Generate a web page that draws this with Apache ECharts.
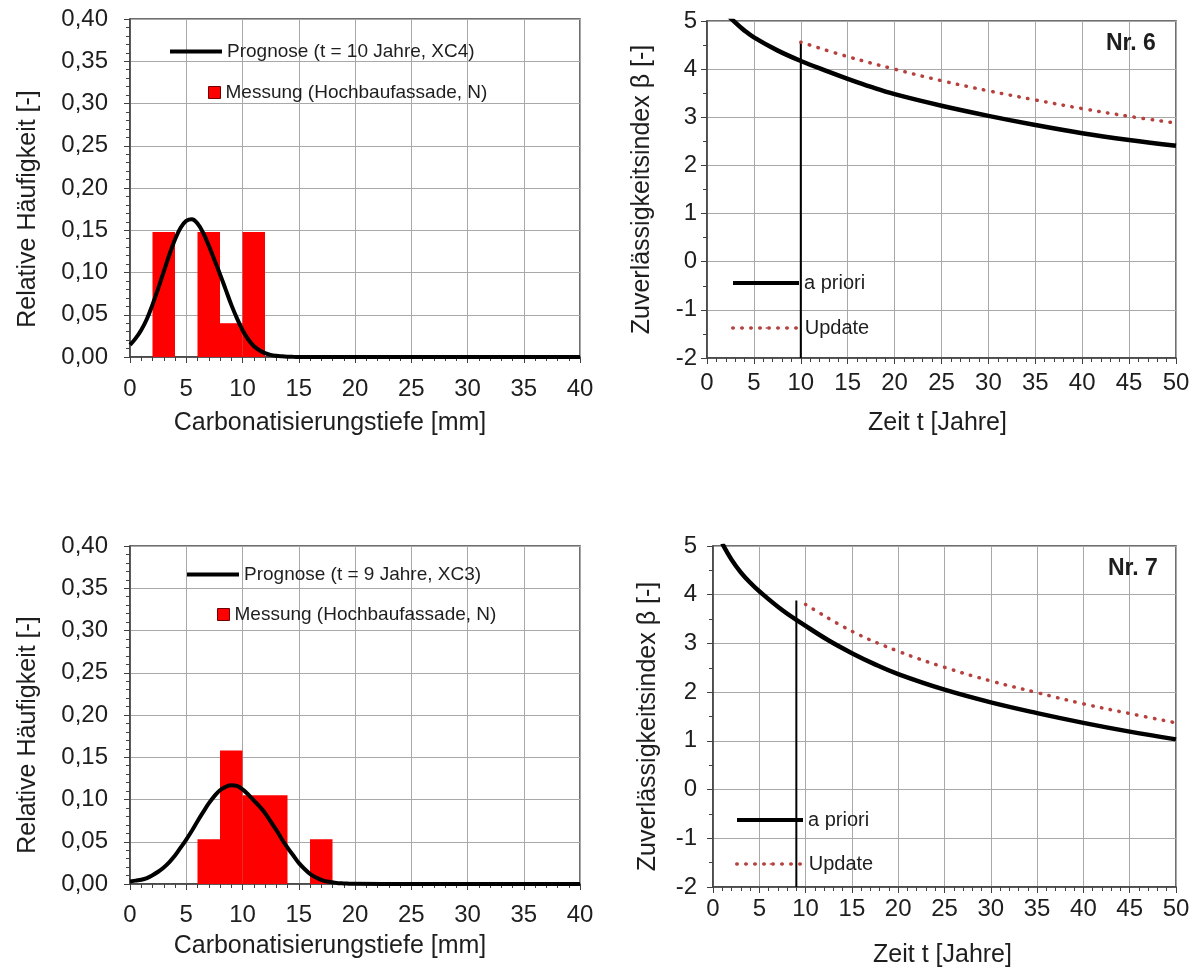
<!DOCTYPE html>
<html>
<head>
<meta charset="utf-8">
<script src="https://cdn.jsdelivr.net/npm/echarts@6/dist/echarts.min.js"></script>
<style>
  html, body { margin: 0; padding: 0; background: #fff; }
  #chart { width: 1201px; height: 970px; }
</style>
</head>
<body>
<div id="chart"></div>
<script>
// --- histogram panels (left) ---
const depthMm = [0, 0.5, 1, 1.5, 2, 2.5, 3, 3.5, 4, 4.5, 5, 5.5, 6, 6.5, 7, 7.5, 8, 8.5, 9, 9.5,
  10, 10.5, 11, 11.5, 12, 12.5, 13, 13.5, 14, 14.5, 15, 15.5, 16, 16.5, 17, 17.5, 18, 18.5, 19, 19.5, 20, 25, 30, 35, 40]
const progNr6 = [0.0143, 0.022, 0.032, 0.045, 0.062, 0.081, 0.101, 0.121, 0.139, 0.153, 0.161, 0.163, 0.158, 0.147, 0.132, 0.115,
  0.098, 0.080, 0.062, 0.046, 0.032, 0.021, 0.013, 0.008, 0.0045, 0.0025, 0.0014, 0.0008, 0.0004, 0.0002, 0.0001,
  0, 0, 0, 0, 0, 0, 0, 0, 0, 0, 0, 0, 0, 0]
const progNr7 = [0.003, 0.004, 0.005, 0.007, 0.0104, 0.0145, 0.0196, 0.026, 0.0337, 0.043, 0.0526, 0.063, 0.0743, 0.085, 0.0953, 0.104,
  0.111, 0.115, 0.117, 0.116, 0.112, 0.106, 0.099, 0.092, 0.084, 0.074, 0.064, 0.053, 0.043, 0.034, 0.025,
  0.018, 0.012, 0.008, 0.005, 0.003, 0.002, 0.001, 0.0007, 0.0004, 0.0002, 0, 0, 0, 0]

const BIN_WIDTH = 2
const binsNr6 = [2, 4, 6, 8, 10]
const messNr6 = [0.148, 0, 0.148, 0.040, 0.148]
const binsNr7 = [6, 8, 10, 12, 14, 16]
const messNr7 = [0.053, 0.158, 0.105, 0.105, 0, 0.053]

// --- reliability panels (right) ---
const tPriorNr6 = [1, 2, 3, 4, 5, 7.5, 10, 12.5, 15, 17.5, 20, 25, 30, 35, 40, 45, 50]
const betaPriorNr6 = [5.45, 5.17, 4.97, 4.8, 4.66, 4.39, 4.17, 3.98, 3.8, 3.63, 3.48, 3.24, 3.03, 2.84, 2.67, 2.53, 2.41]
const tUpdNr6 = [10, 15, 20, 25, 30, 35, 40, 45, 50]
const betaUpdNr6 = [4.56, 4.26, 4.0, 3.76, 3.55, 3.36, 3.18, 3.02, 2.88]
const inspNr6 = [10, -2, 4.56] // t, beta from, beta to

const tPriorNr7 = [1, 2, 3, 4, 5, 7.5, 10, 12.5, 15, 17.5, 20, 25, 30, 35, 40, 45, 50]
const betaPriorNr7 = [5.05, 4.72, 4.46, 4.25, 4.07, 3.68, 3.36, 3.06, 2.8, 2.57, 2.37, 2.05, 1.79, 1.57, 1.37, 1.19, 1.03]
const tUpdNr7 = [10, 15, 20, 25, 30, 35, 40, 45, 50]
const betaUpdNr7 = [3.80, 3.25, 2.84, 2.51, 2.23, 1.99, 1.76, 1.56, 1.37]
const inspNr7 = [9, -2, 3.88]

const NAME_PROG6 = 'Prognose (t = 10 Jahre, XC4)'
const NAME_PROG7 = 'Prognose (t = 9 Jahre, XC3)'
const NAME_MESS = 'Messung (Hochbaufassade, N)'

const FONT = '"Liberation Sans", Arial, sans-serif'
const TEXT = '#1e1e1e'
const GRID_LINE = '#a8a8a8'
const FRAME = '#404040'
const BAR_RED = '#ff0000'
const UPD_RED = '#b5403d'

const pairs = (xs, ys) => xs.map((x, i) => [x, ys[i]])
const comma2 = v => v.toFixed(2).replace('.', ',')

const xAxisCfg = (gridIndex, max, name, labelMargin, nameGap, namePad) => ({
  type: 'value', gridIndex, min: 0, max, interval: 5,
  name, nameLocation: 'middle', nameGap, nameMoveOverlap: false,
  nameTextStyle: { fontFamily: FONT, fontSize: 25, color: TEXT, padding: namePad },
  axisLine: { show: true, onZero: false, lineStyle: { color: FRAME, width: 1.5 } },
  axisTick: { show: true, length: 6, lineStyle: { color: FRAME } },
  minorTick: { show: true, splitNumber: 5, length: 4, lineStyle: { color: FRAME } },
  axisLabel: { fontFamily: FONT, fontSize: 24, color: TEXT, margin: labelMargin },
  splitLine: { show: true, lineStyle: { color: GRID_LINE, width: 1 } },
  minorSplitLine: { show: false }
})

const yAxisCfg = (gridIndex, min, max, interval, minorSplit, name, labelMargin, nameGap, namePad, fmt) => ({
  type: 'value', gridIndex, min, max, interval,
  name, nameLocation: 'middle', nameGap, nameMoveOverlap: false,
  nameTextStyle: { fontFamily: FONT, fontSize: 25, color: TEXT, padding: namePad },
  axisLine: { show: true, onZero: false, lineStyle: { color: FRAME, width: 1.5 } },
  axisTick: { show: true, length: 6, lineStyle: { color: FRAME } },
  minorTick: { show: true, splitNumber: minorSplit, length: 4, lineStyle: { color: FRAME } },
  axisLabel: { fontFamily: FONT, fontSize: 24, color: TEXT, margin: labelMargin, formatter: fmt },
  splitLine: { show: true, lineStyle: { color: GRID_LINE, width: 1 } }
})

const gridCfg = (left, top, right, bottom) => ({
  left, top, right, bottom, show: true, borderColor: FRAME, borderWidth: 1.5,
  backgroundColor: '#fff', containLabel: false, outerBoundsMode: 'none'
})

const histRender = (params, api) => {
  const h = api.value(1)
  if (!h) return
  const a = api.coord([api.value(0), h])
  const b = api.coord([api.value(0) + BIN_WIDTH, 0])
  return {
    type: 'rect',
    shape: { x: a[0], y: a[1], width: b[0] - a[0], height: b[1] - a[1] },
    style: { fill: BAR_RED }
  }
}

const curve = (name, idx, data, width, extra) => Object.assign({
  type: 'line', name, xAxisIndex: idx, yAxisIndex: idx, data,
  smooth: 0.4, symbol: 'circle', showSymbol: false, silent: true,
  itemStyle: { color: '#000' },
  lineStyle: { color: '#000', width }
}, extra || {})

const marker = (idx, m) => ({
  type: 'line', xAxisIndex: idx, yAxisIndex: idx, silent: true,
  data: [[m[0], m[1]], [m[0], m[2]]], symbol: 'none',
  lineStyle: { color: '#000', width: 2 }
})

const updStyle = { itemStyle: { color: UPD_RED }, lineStyle: { color: UPD_RED, width: 3.5, type: [0.5, 8.5], cap: 'round' } }

const legendCfg = (name, left, top, w, h, size, extra) => Object.assign({
  data: [name], left, top, padding: 0, itemWidth: w, itemHeight: h, itemGap: 0,
  selectedMode: false,
  textStyle: { fontFamily: FONT, fontSize: size, color: TEXT }
}, extra || {})

const chart = echarts.init(document.getElementById('chart'))
chart.setOption({
  animation: false,
  backgroundColor: '#fff',
  title: [
    { text: 'Nr. 6', left: 1106, top: 32, padding: 0, textStyle: { fontFamily: FONT, fontSize: 23, fontWeight: 'bold', color: TEXT } },
    { text: 'Nr. 7', left: 1108, top: 557, padding: 0, textStyle: { fontFamily: FONT, fontSize: 23, fontWeight: 'bold', color: TEXT } }
  ],
  grid: [
    gridCfg(130, 19, 621, 613),
    gridCfg(707, 21, 25, 612),
    gridCfg(130, 546, 621, 86),
    gridCfg(713, 546, 25, 83)
  ],
  xAxis: [
    xAxisCfg(0, 40, 'Carbonatisierungstiefe [mm]', 20, 54, [0, 50, 0, 0]),
    xAxisCfg(1, 50, 'Zeit t [Jahre]', 13, 53, [0, 8, 0, 0]),
    xAxisCfg(2, 40, 'Carbonatisierungstiefe [mm]', 19, 50, [0, 50, 0, 0]),
    xAxisCfg(3, 50, 'Zeit t [Jahre]', 10, 56, [0, 4, 0, 0])
  ],
  yAxis: [
    yAxisCfg(0, 0, 0.4, 0.05, 5, 'Relative Häufigkeit [-]', 22, 89, [0, 42, 0, 0], comma2),
    yAxisCfg(1, -2, 5, 1, 2, 'Zuverlässigkeitsindex β [-]', 10, 52, [0, 0, 0, 0]),
    yAxisCfg(2, 0, 0.4, 0.05, 5, 'Relative Häufigkeit [-]', 22, 89, [0, 40, 0, 0], comma2),
    yAxisCfg(3, -2, 5, 1, 2, 'Zuverlässigkeitsindex β [-]', 16, 52, [0, 20, 0, 0])
  ],
  legend: [
    legendCfg(NAME_PROG6, 168, 42, 52, 2, 19, { lineStyle: { width: 4 } }),
    legendCfg(NAME_MESS, 208, 83, 12, 12, 19, { icon: 'rect', itemStyle: { borderColor: '#700000', borderWidth: 1 } }),
    legendCfg(NAME_PROG7, 185, 565, 52, 2, 19, { lineStyle: { width: 4 } }),
    legendCfg(NAME_MESS, 217, 605, 12, 12, 19, { icon: 'rect', itemStyle: { borderColor: '#700000', borderWidth: 1 } }),
    legendCfg('a priori', 731, 273, 66, 2, 20, { lineStyle: { width: 4 } }),
    legendCfg('Update', 731, 318, 67, 2, 20, { lineStyle: { width: 3.5 } }),
    legendCfg('a priori', 735, 810, 66, 2, 20, { lineStyle: { width: 4 } }),
    legendCfg('Update', 735, 854, 67, 2, 20, { lineStyle: { width: 3.5 } })
  ],
  series: [
    { type: 'custom', name: NAME_MESS, xAxisIndex: 0, yAxisIndex: 0, silent: true,
      itemStyle: { color: BAR_RED }, renderItem: histRender, data: pairs(binsNr6, messNr6) },
    curve(NAME_PROG6, 0, pairs(depthMm, progNr6), 4),
    { type: 'custom', name: NAME_MESS, xAxisIndex: 2, yAxisIndex: 2, silent: true,
      itemStyle: { color: BAR_RED }, renderItem: histRender, data: pairs(binsNr7, messNr7) },
    curve(NAME_PROG7, 2, pairs(depthMm, progNr7), 4),

    marker(1, inspNr6),
    curve('a priori', 1, pairs(tPriorNr6, betaPriorNr6), 4.5),
    curve('Update', 1, pairs(tUpdNr6, betaUpdNr6), 3.5, updStyle),

    marker(3, inspNr7),
    curve('a priori', 3, pairs(tPriorNr7, betaPriorNr7), 4.5),
    curve('Update', 3, pairs(tUpdNr7, betaUpdNr7), 3.5, updStyle)
  ]
})
</script>
</body>
</html>
